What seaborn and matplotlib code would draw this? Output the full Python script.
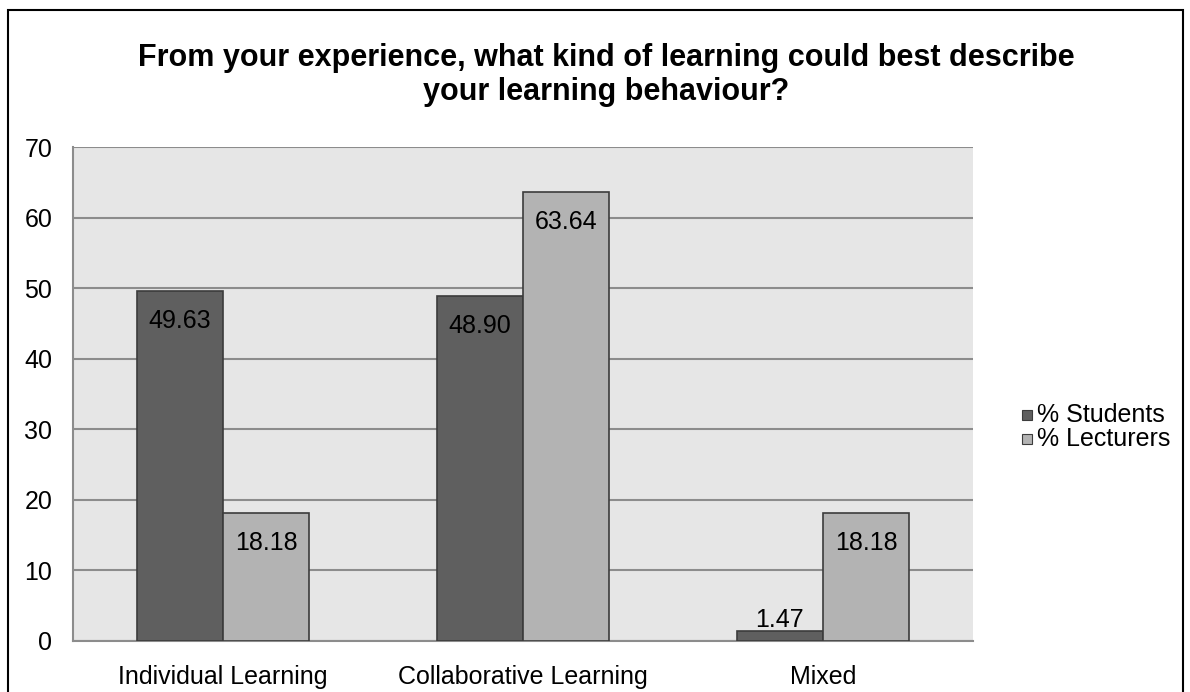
import pandas as pd
import numpy as np
import matplotlib.pyplot as plt
import seaborn as sns
from matplotlib.patches import Rectangle

categories = ["Individual Learning", "Collaborative Learning", "Mixed"]
series = ["% Students", "% Lecturers"]
students = [49.63, 48.90, 1.47]
lecturers = [18.18, 63.64, 18.18]
colors = ["#5f5f5f", "#b3b3b3"]

df = pd.DataFrame({
	"category": categories * 2,
	"series": [series[0]] * 3 + [series[1]] * 3,
	"value": students + lecturers,
})

sns.set_style("white")
plt.rcParams['font.family'] = ['Liberation Sans', 'DejaVu Sans']

W, H = 1190, 692
fig = plt.figure(figsize=(W / 100, H / 100), dpi=100)
ax = fig.add_axes([73 / W, 1 - 641 / H, 900 / W, 494 / H])
ax.set_facecolor("#e6e6e6")

sns.barplot(data=df, x="category", y="value", hue="series", palette=colors,
			width=0.575, edgecolor="#3c3c3c", linewidth=1.2, ax=ax, legend=False, zorder=3)

ax.set_ylim(0, 70)
ax.set_xlim(-0.5, 2.5)
ax.set_yticks(range(0, 71, 10))
ax.yaxis.grid(True, color="#8c8c8c", linewidth=1.5, zorder=0)
ax.set_axisbelow(True)
for s in ["top", "right"]:
	ax.spines[s].set_visible(False)
for s in ["left", "bottom"]:
	ax.spines[s].set_color("#8c8c8c")
	ax.spines[s].set_linewidth(1.5)
ax.tick_params(axis="y", which="major", length=5, width=1.5, color="#8c8c8c",
			   labelsize=18, labelcolor="black", pad=10)
ax.tick_params(axis="x", which="major", length=0, labelsize=18, labelcolor="black", pad=17)
ax.set_xticks([-0.5, 0.5, 1.5, 2.5], minor=True)
ax.tick_params(axis="x", which="minor", length=5, width=1.5, color="#8c8c8c")
ax.set_xlabel("")
ax.set_ylabel("")

# value labels: inside near the top, or just above for the tiny bar
for cont in ax.containers:
	for bar in cont:
		h = bar.get_height()
		cx = bar.get_x() + bar.get_width() / 2
		off = -22 if h > 5 else 8
		ax.annotate(f"{h:.2f}", (cx, h), xytext=(0, off), textcoords="offset points",
					ha="center", va="center", fontsize=18, color="black", zorder=5)

# title, two lines
fig.text(606 / W, 1 - 66 / H, "From your experience, what kind of learning could best describe",
		 ha="center", va="baseline", fontsize=22, fontweight="bold", color="black")
fig.text(606 / W, 1 - 100 / H, "your learning behaviour?",
		 ha="center", va="baseline", fontsize=22, fontweight="bold", color="black")

# legend
for i, (lab, col) in enumerate(zip(series, colors)):
	yc = 415 + i * 24
	fig.patches.append(Rectangle((1022 / W, 1 - (yc + 5) / H), 10 / W, 10 / H,
								 transform=fig.transFigure, facecolor=col,
								 edgecolor="#3c3c3c", linewidth=0.8))
	fig.text(1037 / W, 1 - yc / H, lab, ha="left", va="center", fontsize=18, color="black")

fig.patches.append(Rectangle((7.5 / W, -0.05), (1183 - 7.5) / W, 1.05 - 9.5 / H,
							 transform=fig.transFigure, fill=False,
							 edgecolor="black", linewidth=1.5))

fig.savefig("out.png", dpi=100)
